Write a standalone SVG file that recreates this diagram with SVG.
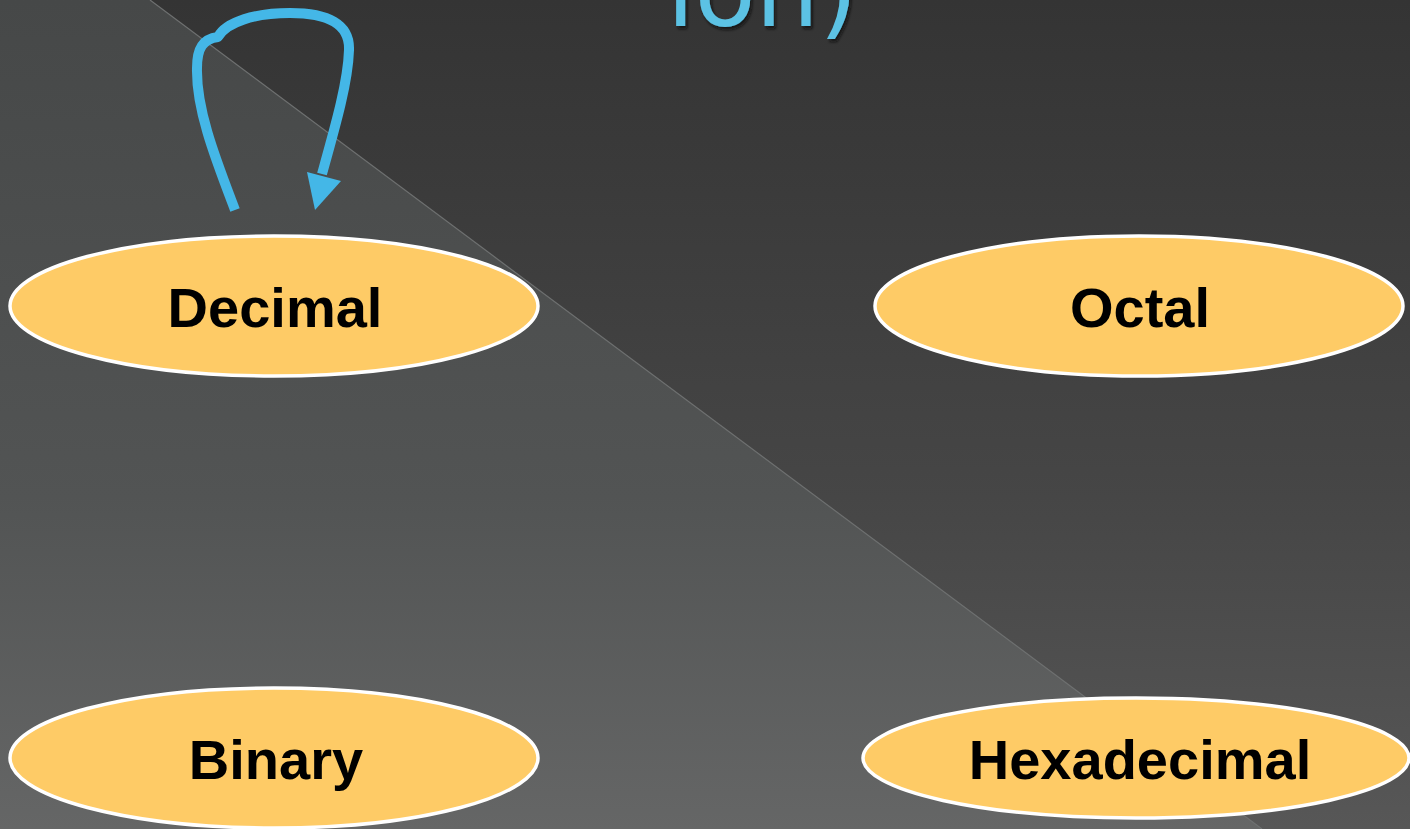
<svg xmlns="http://www.w3.org/2000/svg" width="1410" height="829" viewBox="0 0 1410 829">
  <defs>
    <linearGradient id="bgDark" x1="0" y1="0" x2="0" y2="1">
      <stop offset="0" stop-color="#343434"/>
      <stop offset="0.6" stop-color="#464646"/>
      <stop offset="1" stop-color="#575757"/>
    </linearGradient>
    <linearGradient id="bgLight" x1="0" y1="0" x2="0" y2="1">
      <stop offset="0" stop-color="#464848"/>
      <stop offset="0.6" stop-color="#525454"/>
      <stop offset="1" stop-color="#656666"/>
    </linearGradient>
    <filter id="titleShadow" x="-10%" y="-50%" width="130%" height="200%">
      <feDropShadow dx="2" dy="3" stdDeviation="1.5" flood-color="#111" flood-opacity="0.8"/>
    </filter>
  </defs>
  <style>
    .node ellipse { fill: #fecb66; stroke: #ffffff; stroke-width: 3.5; }
    .node text { font-family: "Liberation Sans", Arial, sans-serif; font-weight: bold; font-size: 56px; fill: #000; text-anchor: middle; }
    .link { fill: none; stroke: #44b7e7; stroke-width: 10; stroke-linejoin: round; }
    .head { fill: #44b7e7; }
    .title { font-family: "DejaVu Sans", "Liberation Sans", sans-serif; font-size: 100px; fill: #5cc2e4; }
  </style>

  <!-- background: two shaded planes split by a diagonal seam -->
  <rect x="0" y="0" width="1410" height="829" fill="url(#bgDark)"/>
  <polygon points="0,0 150,0 1262,829 0,829" fill="url(#bgLight)"/>
  <line x1="150" y1="0" x2="1262" y2="829" stroke="#6e7070" stroke-width="1.2"/>

  <!-- heading, running off the top edge -->
  <text class="title" x="858" y="26" text-anchor="end" filter="url(#titleShadow)">ion)</text>

  <g id="connectors">
    <path class="link" d="M235,210 C216,160 196,110 197,68 C197,48 203,39 218,37 C226,22 255,13 290,13 C328,13 350,24 349,50 C348,82 336,124 322,174"/>
    <polygon class="head" points="307,172 341,181 315,210"/>
  </g>

  <g id="node-decimal" class="node">
    <ellipse cx="274" cy="306" rx="264" ry="70"/>
    <text x="275" y="327">Decimal</text>
  </g>
  <g id="node-octal" class="node">
    <ellipse cx="1139" cy="306" rx="264" ry="70"/>
    <text x="1140" y="327">Octal</text>
  </g>
  <g id="node-binary" class="node">
    <ellipse cx="274" cy="758" rx="264" ry="70"/>
    <text x="276" y="779">Binary</text>
  </g>
  <g id="node-hexadecimal" class="node">
    <ellipse cx="1136" cy="758" rx="273" ry="60"/>
    <text x="1140" y="779">Hexadecimal</text>
  </g>
</svg>
